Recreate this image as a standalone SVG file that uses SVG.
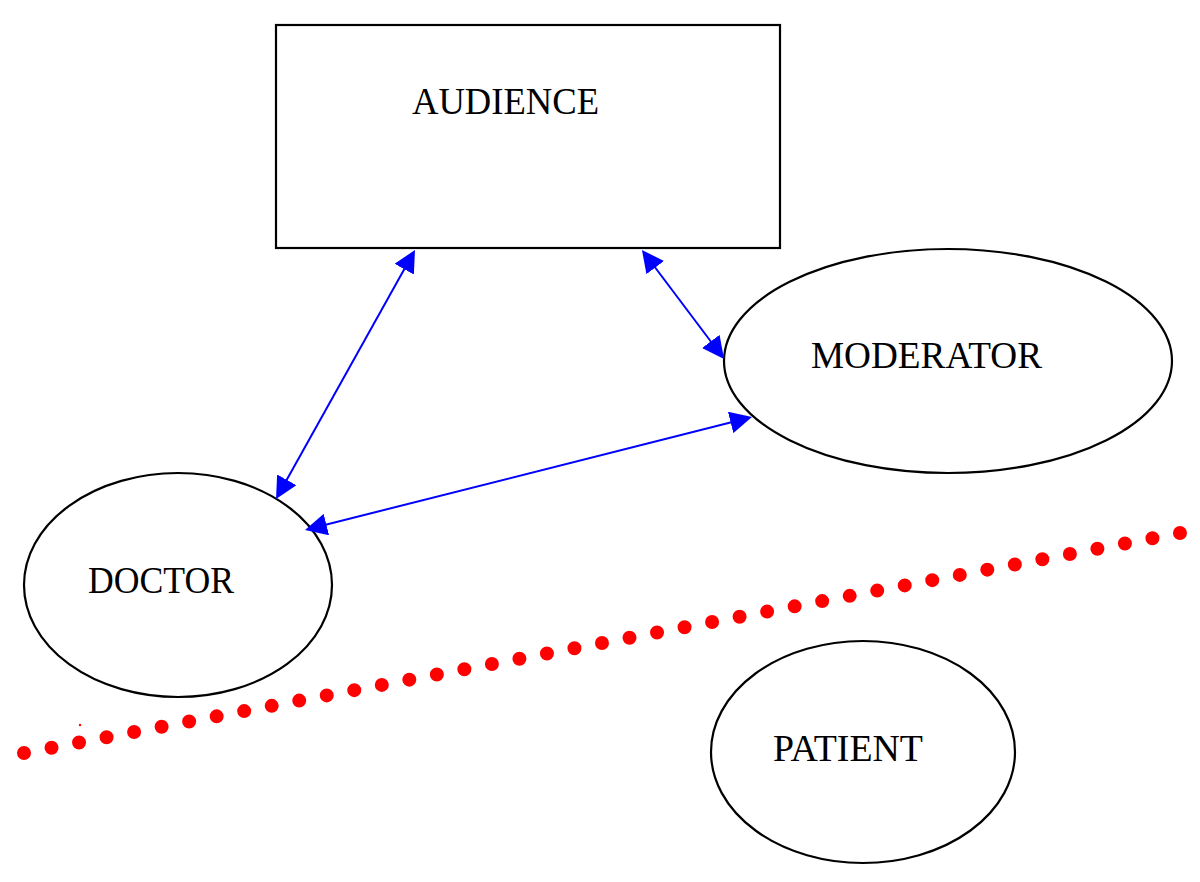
<svg xmlns="http://www.w3.org/2000/svg" width="1200" height="882" viewBox="0 0 1200 882">
<style>
.node{fill:#fff;stroke:#000;stroke-width:2.2}
.lbl{font-family:"Liberation Serif","Times New Roman",serif;font-size:37px;fill:#000}
.edge{stroke:#0000ff;stroke-width:2;fill:none;marker-start:url(#ah);marker-end:url(#ah)}
</style>
<defs>
<marker id="ah" markerUnits="userSpaceOnUse" markerWidth="22" markerHeight="22" viewBox="0 0 22 22" refX="12" refY="11" orient="auto-start-reverse">
<path d="M0,0 L22,11 L0,22 z" fill="#0000ff"/>
</marker>
</defs>
<rect width="1200" height="882" fill="#fff"/>
<g id="audience">
<rect class="node" x="276" y="25" width="504" height="223"/>
<text class="lbl" x="412" y="114" textLength="187" lengthAdjust="spacingAndGlyphs">AUDIENCE</text>
</g>
<g id="moderator">
<ellipse class="node" cx="948" cy="361" rx="224" ry="112"/>
<text class="lbl" x="811" y="368" textLength="231" lengthAdjust="spacingAndGlyphs">MODERATOR</text>
</g>
<g id="doctor">
<ellipse class="node" cx="178" cy="585" rx="154" ry="112"/>
<text class="lbl" x="88" y="593" textLength="146" lengthAdjust="spacingAndGlyphs">DOCTOR</text>
</g>
<g id="patient">
<ellipse class="node" cx="863" cy="752" rx="152" ry="111"/>
<text class="lbl" x="773" y="761" textLength="150" lengthAdjust="spacingAndGlyphs">PATIENT</text>
</g>
<g id="connectors">
<line class="edge" x1="410.1" y1="258.7" x2="280.9" y2="490.3"/>
<line class="edge" x1="648" y1="258" x2="718" y2="351"/>
<line class="edge" x1="742.3" y1="419.5" x2="314.7" y2="527.5"/>
</g>
<g id="divider">
<line x1="24" y1="753" x2="1180" y2="533" stroke="#ff0000" stroke-width="14" stroke-linecap="round" stroke-dasharray="0 28.017"/>
<circle cx="80" cy="725" r="1.2" fill="#ff0000"/>
</g>
</svg>
